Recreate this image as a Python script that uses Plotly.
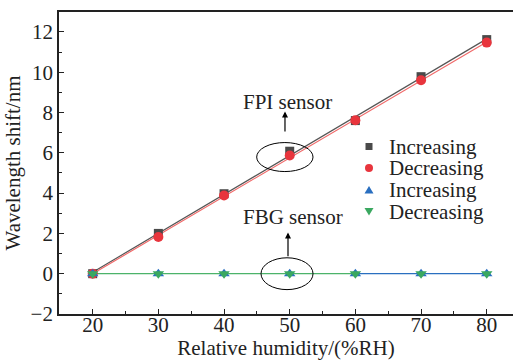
import numpy as np
import plotly.graph_objects as go

rh = [20, 30, 40, 50, 60, 70, 80]
fpi_inc = [0.0, 2.0, 3.97, 6.08, 7.6, 9.78, 11.62]
fpi_dec = [0.0, 1.82, 3.88, 5.87, 7.62, 9.6, 11.47]
fbg_inc = [0.0, 0.0, 0.0, 0.0, 0.0, 0.0, 0.0]
fbg_dec = [0.0, 0.0, 0.0, 0.0, 0.0, 0.0, 0.0]

x_ticks = [20, 30, 40, 50, 60, 70, 80]
y_ticks = [-2, 0, 2, 4, 6, 8, 10, 12]
y_ticktext = ["\u22122", "0", "2", "4", "6", "8", "10", "12"]

legend_names = ["Increasing", "Decreasing", "Increasing", "Decreasing"]

FONT = "Liberation Serif, Times New Roman, serif"
TXT = "#222222"
C_SQ = "#4a4a4a"
C_CI = "#e8353d"
C_UP = "#2a6fc0"
C_DN = "#3aa860"

def fit(x, y):
    p = np.polyfit(x, y, 1)
    xs = np.array([x[0], x[-1]], dtype=float)
    return xs, np.polyval(p, xs)

fig = go.Figure()

xs, ys = fit(rh, fpi_inc)
fig.add_trace(go.Scatter(x=xs, y=ys, mode="lines", line=dict(color="#555555", width=1.2),
                         showlegend=False, hoverinfo="skip"))
xs, ys = fit(rh, fpi_dec)
fig.add_trace(go.Scatter(x=xs, y=ys, mode="lines", line=dict(color="#f06a6a", width=1.2),
                         showlegend=False, hoverinfo="skip"))
fig.add_trace(go.Scatter(x=rh[4:], y=fbg_inc[4:], mode="lines", line=dict(color=C_UP, width=1.2),
                         showlegend=False, hoverinfo="skip"))
fig.add_trace(go.Scatter(x=rh[:5], y=fbg_dec[:5], mode="lines", line=dict(color="#4cb36a", width=1.2),
                         showlegend=False, hoverinfo="skip"))

fig.add_trace(go.Scatter(x=rh, y=fpi_inc, mode="markers", name=legend_names[0], showlegend=False,
                         marker=dict(symbol="square", size=9, color=C_SQ)))
fig.add_trace(go.Scatter(x=rh, y=fpi_dec, mode="markers", name=legend_names[1], showlegend=False,
                         marker=dict(symbol="circle", size=10, color=C_CI)))
fig.add_trace(go.Scatter(x=rh, y=fbg_inc, mode="markers", name=legend_names[2], showlegend=False,
                         marker=dict(symbol="triangle-up", size=10, color=C_UP)))
fig.add_trace(go.Scatter(x=rh, y=fbg_dec, mode="markers", name=legend_names[3], showlegend=False,
                         marker=dict(symbol="triangle-down", size=10, color=C_DN)))

# ellipses
fig.add_shape(type="circle", xref="x", yref="y", x0=44.97, x1=53.55, y0=5.07, y1=6.51,
              line=dict(color="black", width=1))
fig.add_shape(type="circle", xref="x", yref="y", x0=45.63, x1=53.55, y0=-0.79, y1=0.79,
              line=dict(color="black", width=1))

# arrows + labels
fig.add_annotation(x=49.28, y=8.05, ax=49.28, ay=6.99, xref="x", yref="y", axref="x", ayref="y",
                   text="", showarrow=True, arrowhead=2, arrowsize=1, arrowwidth=1.2, arrowcolor="black")
fig.add_annotation(x=49.74, y=2.05, ax=49.74, ay=0.79, xref="x", yref="y", axref="x", ayref="y",
                   text="", showarrow=True, arrowhead=2, arrowsize=1, arrowwidth=1.2, arrowcolor="black")
fig.add_annotation(x=49.6, y=8.53, xref="x", yref="y", text="FPI sensor", showarrow=False,
                   font=dict(family=FONT, size=21, color=TXT))
fig.add_annotation(x=50.5, y=2.83, xref="x", yref="y", text="FBG sensor", showarrow=False,
                   font=dict(family=FONT, size=21, color=TXT))

# manual legend (paper coordinates; plot area 59..513 x 12..314 px)
def px(xp):
    return (xp - 59) / 454.0

def py(yp):
    return (314 - yp) / 302.0

leg_x = 369
leg_rows = [146.5, 168, 190, 211.5]
h = 3.5
fig.add_shape(type="rect", xref="paper", yref="paper",
              x0=px(leg_x - h), x1=px(leg_x + h), y0=py(leg_rows[0] + h), y1=py(leg_rows[0] - h),
              fillcolor=C_SQ, line=dict(width=0))
r = 4
fig.add_shape(type="circle", xref="paper", yref="paper",
              x0=px(leg_x - r), x1=px(leg_x + r), y0=py(leg_rows[1] + r), y1=py(leg_rows[1] - r),
              fillcolor=C_CI, line=dict(width=0))
t = 4.5
yc = leg_rows[2]
fig.add_shape(type="path", xref="paper", yref="paper",
              path=f"M {px(leg_x - t)} {py(yc + t*0.8)} L {px(leg_x + t)} {py(yc + t*0.8)} L {px(leg_x)} {py(yc - t*0.9)} Z",
              fillcolor=C_UP, line=dict(width=0))
yc = leg_rows[3]
fig.add_shape(type="path", xref="paper", yref="paper",
              path=f"M {px(leg_x - t)} {py(yc - t*0.8)} L {px(leg_x + t)} {py(yc - t*0.8)} L {px(leg_x)} {py(yc + t*0.9)} Z",
              fillcolor=C_DN, line=dict(width=0))
for name, yr in zip(legend_names, leg_rows):
    fig.add_annotation(x=px(387), y=py(yr), xref="paper", yref="paper", text=name, showarrow=False,
                       xanchor="left", yanchor="middle", font=dict(family=FONT, size=21, color=TXT))

fig.update_layout(
    width=513, height=360,
    margin=dict(l=59, r=0, t=12, b=46, autoexpand=False),
    paper_bgcolor="white", plot_bgcolor="white",
    font=dict(family=FONT, size=21, color=TXT),
    showlegend=False,
)
fig.update_xaxes(range=[14.87, 84.0], tickvals=x_ticks, ticks="inside", ticklen=5, tickwidth=1.2,
                 tickcolor="#222", showline=True, linecolor="#222", linewidth=1.8, mirror=True,
                 showgrid=False, zeroline=False, automargin=False, ticklabelstandoff=-9,
                 minor=dict(tickvals=[25, 35, 45, 55, 65, 75], ticks="inside", ticklen=3, tickcolor="#222"),
                 title=dict(text="Relative humidity/(%RH)", standoff=0, font=dict(size=21)),
                 tickfont=dict(size=21))
fig.update_yaxes(range=[-2, 12.99], tickvals=y_ticks, ticktext=y_ticktext,
                 ticks="inside", ticklen=5, tickwidth=1.2,
                 tickcolor="#222", showline=True, linecolor="#222", linewidth=1.8, mirror=False,
                 showgrid=False, zeroline=False, automargin=False,
                 minor=dict(tickvals=[-1, 1, 3, 5, 7, 9, 11], ticks="inside", ticklen=3, tickcolor="#222"),
                 title=dict(text="Wavelength shift/nm", standoff=4, font=dict(size=21)),
                 tickfont=dict(size=21))

fig.write_html("out.html", config={"displayModeBar": False},
               post_script="document.body.style.margin='0';document.body.style.overflow='hidden';")
